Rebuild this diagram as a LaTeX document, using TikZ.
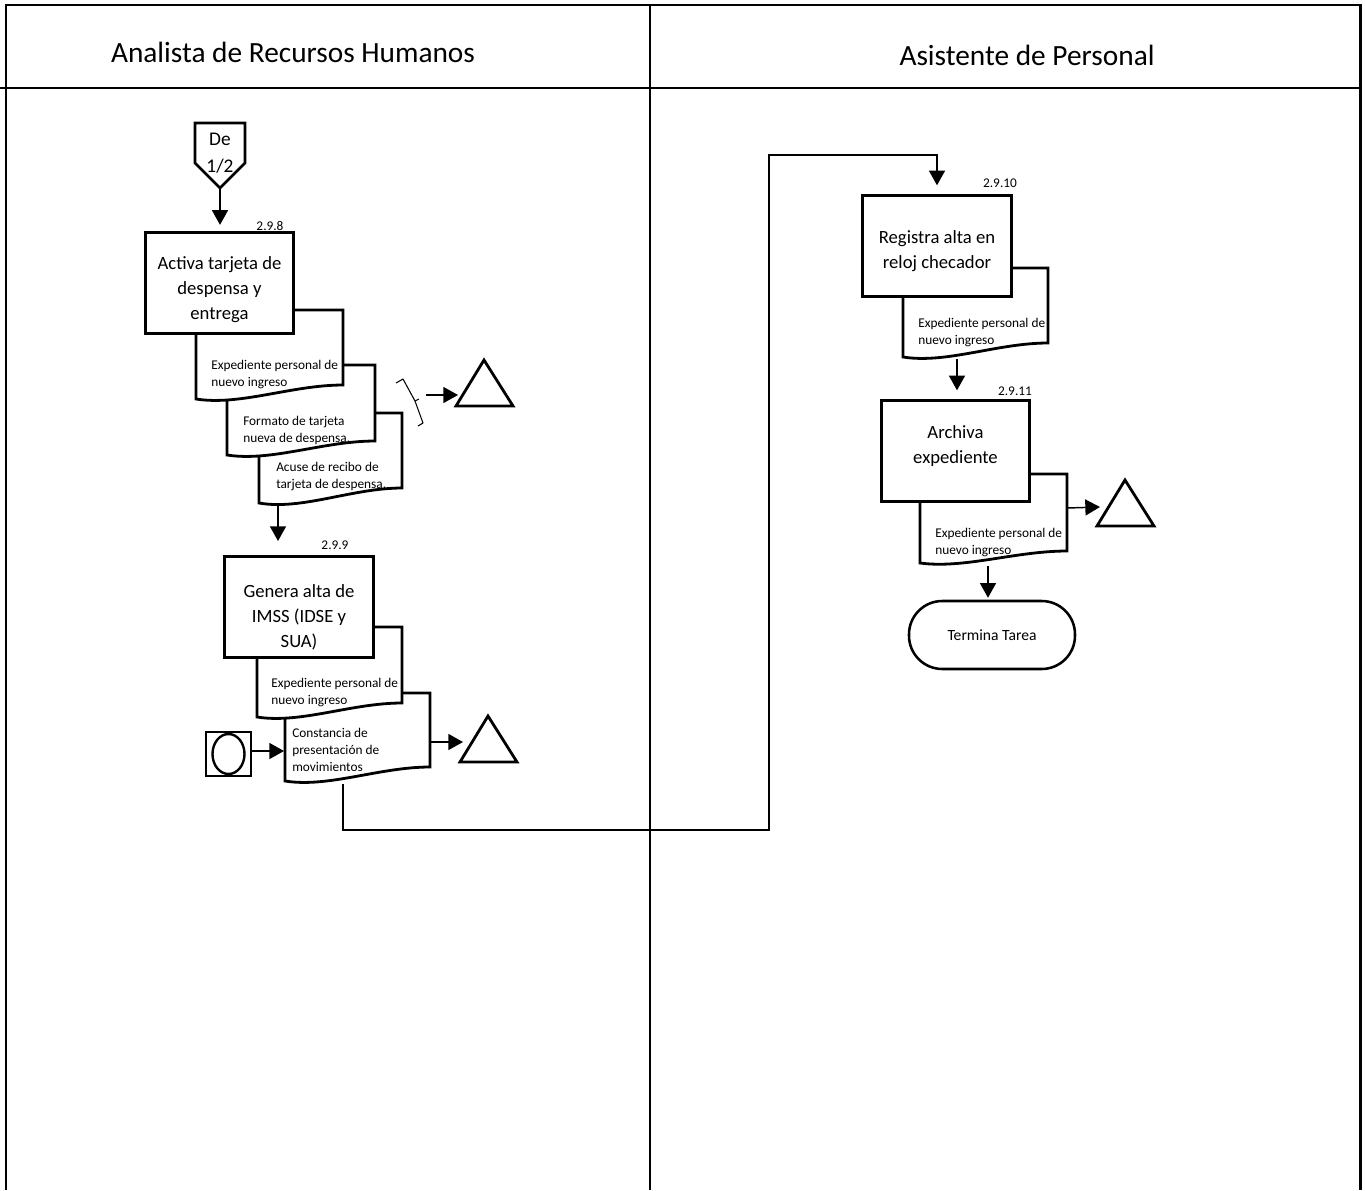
\documentclass[tikz,border=0pt]{standalone}
\usepackage{fontspec}
\setmainfont{Carlito}
\usetikzlibrary{arrows.meta}

\tikzset{
  frameline/.style={line width=1.6pt},
  lanetitle/.style={inner sep=0pt, font=\fontsize{22}{26}\selectfont},
  procbox/.style={draw, line width=2.25pt, fill=white, inner sep=0pt,
    minimum width=111.5pt, minimum height=76pt},
  boxtext/.style={align=center, inner sep=0pt, font=\fontsize{14}{18.75}\selectfont},
  sheet/.style={draw, line width=2.1pt, fill=white, line join=miter},
  sheettext/.style={anchor=west, align=left, inner sep=0pt, font=\fontsize{10}{12.75}\selectfont},
  steplabel/.style={inner sep=0pt, font=\fontsize{10}{12}\selectfont},
  flow/.style={line width=1.1pt, -{Triangle[length=11pt,width=12pt]}},
  longflow/.style={line width=1pt, -{Triangle[length=11pt,width=12pt]}},
  bracket/.style={line width=0.8pt, line join=round},
  terminal/.style={draw, line width=1.9pt, fill=white, rounded corners=25pt,
    minimum width=124.5pt, minimum height=51pt, font=\fontsize{11.7}{14}\selectfont},
}

% document symbol with a wavy lower edge: x1, ytop, x2, ybottom (left), rise of the right end
\newcommand{\docsheet}[5]{%
  \pgfmathsetmacro{\dsw}{#3-#1}%
  \draw[sheet] (#1,#2) -- (#3,#2) -- (#3,{#4-#5})
    .. controls ({#3-0.35*\dsw},{#4-#5}) and ({#1+0.3*\dsw},{#4+0.5*#5}) .. (#1,#4) -- cycle;%
}
% archive (storage) triangle given by its apex
\newcommand{\storagemark}[2]{%
  \draw[sheet] (#1,#2) -- ({#1-28},{#2+46}) -- ({#1+29},{#2+46}) -- cycle;%
}

\begin{document}
\begin{tikzpicture}[x=0.75pt, y=-0.75pt]
\useasboundingbox (0,0) rectangle (1365,1190);

% swimlane frame
\draw[frameline] (6,1190) -- (6,5) -- (1360,5);
\draw[line width=2.25pt] (1360.5,4) -- (1360.5,1190);
\draw[line width=1.5pt] (0,88) -- (1360,88);
\draw[line width=1.1pt] (650,5) -- (650,1190);
\node[lanetitle] (laneA) at (293,52) {Analista de Recursos Humanos};
\node[lanetitle] (laneB) at (1027,55) {Asistente de Personal};

% off-page connector
\draw[sheet] (195,123) -- (245,123) -- (245,163) -- (220,188) -- (195,163) -- cycle;
\coordinate (detip) at (220,188);
\node[align=center, inner sep=0pt, font=\fontsize{14.5}{20}\selectfont] (de) at (220,153) {De\\1/2};

% step 2.9.8
\docsheet{259}{413}{402}{503}{15}
\node[sheettext] (d3) at (276,477) {Acuse de recibo de\\tarjeta de despensa.};
\docsheet{227}{365}{375}{455}{14}
\node[sheettext] (d2) at (243,430) {Formato de tarjeta\\nueva de despensa.};
\docsheet{196}{310}{343}{399}{14}
\node[sheettext] (d1) at (211,375) {Expediente personal de\\nuevo ingreso};
\node[procbox] (s298) at (219.5,283) {};
\node[boxtext] (s298t) at (219.5,290) {Activa tarjeta de\\despensa y\\entrega};
\node[steplabel] (l298) at (270,226) {2.9.8};

\draw[bracket] (396,383) -- (403,379) -- (415,401) -- (423,423) -- (418,426);
\draw[bracket] (415,401) -- (419,399);
\coordinate (bracetip) at (426,395);
\coordinate (t1in) at (458,395);
\storagemark{484}{360}

% step 2.9.9
\docsheet{285}{693}{430}{781}{14}
\node[sheettext] (db) at (292,750) {Constancia de\\presentación de\\movimientos};
\docsheet{257}{627}{402}{717}{14}
\node[sheettext] (da) at (271,693) {Expediente personal de\\nuevo ingreso};
\node[procbox] (s299) at (299,607) {};
\node[boxtext] (s299t) at (299,617) {Genera alta de\\IMSS (IDSE y\\SUA)};
\node[steplabel] (l299) at (335,545) {2.9.9};

\node[draw, line width=1.8pt, fill=white, minimum width=33.75pt, minimum height=33pt, inner sep=0pt] (src) at (228.5,754) {};
\draw[line width=1.8pt] (src.center) ellipse [x radius=12pt, y radius=15pt];
\coordinate (dbin) at (284,751);
\coordinate (dbright) at (430,742);
\coordinate (t2in) at (463,742);
\storagemark{488}{716}
\coordinate (d3out) at (278,505);
\coordinate (s299in) at (278,541);
\coordinate (dbout) at (343,784);
\coordinate (bendA) at (769,830);
\coordinate (bendB) at (769,155);

% step 2.9.10
\docsheet{903}{268}{1048}{357}{14}
\node[sheettext] (dr1) at (918,333) {Expediente personal de\\nuevo ingreso};
\node[procbox] (s2910) at (937,246) {};
\node[boxtext] (s2910t) at (937,251) {Registra alta en\\reloj checador};
\node[steplabel] (l2910) at (1000,183) {2.9.10};
\coordinate (dr1out) at (957,359);

% step 2.9.11
\docsheet{920}{474}{1067}{563}{12}
\node[sheettext] (dr2) at (935,543) {Expediente personal de\\nuevo ingreso};
\node[procbox] (s2911) at (955.5,451) {};
\node[boxtext] (s2911t) at (955.5,446.5) {Archiva\\expediente};
\node[steplabel] (l2911) at (1015,391) {2.9.11};
\coordinate (dr2right) at (1067,508);
\coordinate (t3in) at (1100,507);
\storagemark{1125}{480}
\coordinate (dr2out) at (988,566);
\node[terminal] (term) at (992,635) {Termina Tarea};

% connectors
\draw[flow, shorten >=4.5pt] (detip) -- (detip |- s298.north);
\draw[flow] (bracetip) -- (t1in);
\draw[flow] (d3out) -- (s299in);
\draw[flow] (src.east |- dbin) -- (dbin);
\draw[flow] (dbright) -- (t2in);
\draw[longflow, shorten >=6.4pt] (dbout) |- (bendA) -- (bendB) -| (s2910.north);
\draw[flow, shorten >=6.4pt] (dr1out) -- (dr1out |- s2911.north);
\draw[flow] (dr2right) -- (t3in);
\draw[flow, shorten >=1.5pt] (dr2out) -- (dr2out |- term.north);
\end{tikzpicture}
\end{document}
